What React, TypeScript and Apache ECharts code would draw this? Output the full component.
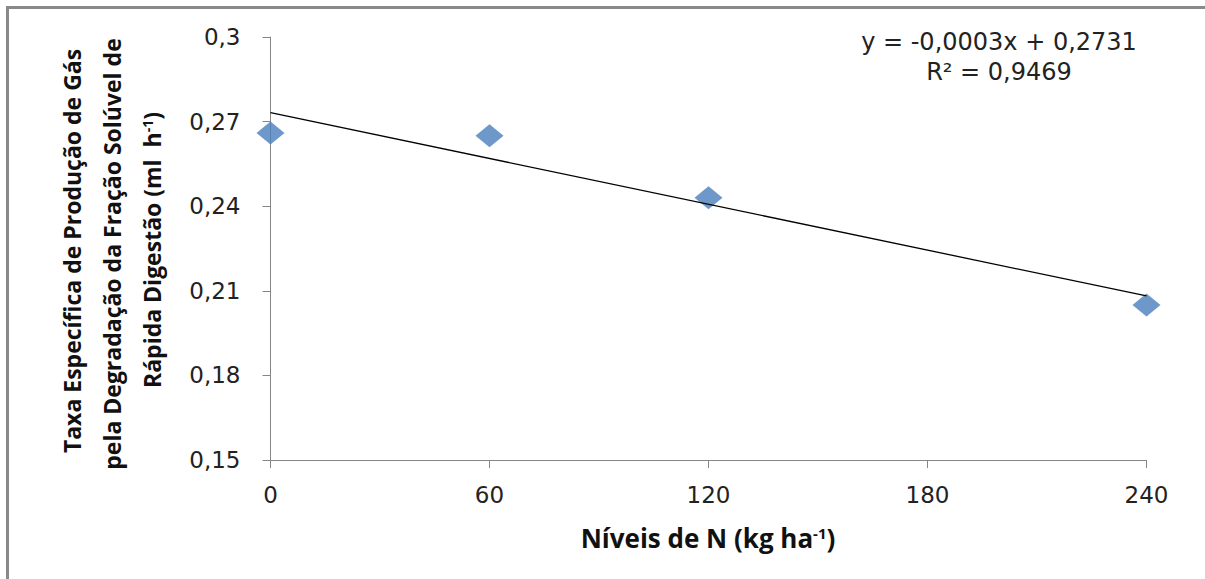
import React, { useEffect, useRef } from "react";
import * as echarts from "echarts";

// ---- data ----
const nLevels = [0, 60, 120, 240];
const gasRate = [0.266, 0.265, 0.243, 0.205];
const xTickInfo = { min: 0, max: 240, interval: 60 };
const yTickInfo = { min: 0.15, max: 0.3, interval: 0.03 };
const equationText = "y = -0,0003x + 0,2731";
const r2Text = "R² = 0,9469";
const yTitleLine1 = "Taxa Específica de Produção de Gás";
const yTitleLine2 = "pela Degradação da Fração Solúvel de";
const yTitleLine3 = "Rápida Digestão (ml  h";
const xTitleMain = "Níveis de N (kg ha";
const supText = "-1";

// least squares linear trend through the observed points
function linearFit(xs: number[], ys: number[]) {
  const n = xs.length;
  const mx = xs.reduce((a, b) => a + b, 0) / n;
  const my = ys.reduce((a, b) => a + b, 0) / n;
  let sxy = 0;
  let sxx = 0;
  for (let i = 0; i < n; i++) {
    sxy += (xs[i] - mx) * (ys[i] - my);
    sxx += (xs[i] - mx) * (xs[i] - mx);
  }
  const m = sxy / sxx;
  return { m, b: my - m * mx };
}

const fit = linearFit(nLevels, gasRate);
const trendX = [nLevels[0], nLevels[nLevels.length - 1]];
const trendData = trendX.map((x) => [x, fit.b + fit.m * x]);

const TITLE_FONT = "'Open Sans', 'Noto Sans', sans-serif";
const NUM_FONT = "'DejaVu Sans', sans-serif";

export default function App() {
  const ref = useRef<HTMLDivElement>(null);

  useEffect(() => {
    if (!ref.current) return;
    const chart = echarts.init(ref.current, undefined, { renderer: "svg" });
    const axisColor = "#868686";
    const labelColor = "#222";
    chart.setOption({
      animation: false,
      backgroundColor: "#ffffff",
      grid: { left: 270.5, right: 58.5, top: 37, bottom: 119, containLabel: false },
      xAxis: {
        type: "value",
        min: xTickInfo.min,
        max: xTickInfo.max,
        interval: xTickInfo.interval,
        axisLine: { show: true, lineStyle: { color: axisColor, width: 1 } },
        axisTick: { show: true, length: 8, lineStyle: { color: axisColor, width: 1 } },
        axisLabel: { margin: 23, fontFamily: NUM_FONT, fontSize: 23, color: labelColor },
        splitLine: { show: false },
      },
      yAxis: {
        type: "value",
        min: yTickInfo.min,
        max: yTickInfo.max,
        interval: yTickInfo.interval,
        axisLine: { show: true, lineStyle: { color: axisColor, width: 1 } },
        axisTick: { show: true, length: 8, lineStyle: { color: axisColor, width: 1 } },
        axisLabel: {
          margin: 30,
          fontFamily: NUM_FONT,
          fontSize: 23,
          color: labelColor,
          formatter: (v: number) => String(+v.toFixed(2)).replace(".", ","),
        },
        splitLine: { show: false },
      },
      series: [
        {
          type: "line",
          data: trendData,
          showSymbol: false,
          symbol: "none",
          lineStyle: { color: "#000", width: 1.3 },
          z: 3,
        },
        {
          type: "scatter",
          data: nLevels.map((x, i) => [x, gasRate[i]]),
          symbol: "diamond",
          symbolSize: [28, 23],
          itemStyle: { color: "#4A7EBB" },
          z: 2,
        },
      ],
      graphic: [
        {
          type: "line",
          shape: { x1: 6, y1: 7.5, x2: 1205, y2: 7.5 },
          style: { stroke: "#898989", lineWidth: 3 },
        },
        {
          type: "line",
          shape: { x1: 7.5, y1: 6, x2: 7.5, y2: 579 },
          style: { stroke: "#898989", lineWidth: 3 },
        },
        {
          type: "text",
          x: 999,
          y: 42,
          style: {
            text: equationText,
            fontFamily: NUM_FONT,
            fontSize: 24,
            fill: labelColor,
            align: "center",
            verticalAlign: "middle",
          },
        },
        {
          type: "text",
          x: 999,
          y: 72,
          style: {
            text: r2Text,
            fontFamily: NUM_FONT,
            fontSize: 24,
            fill: labelColor,
            align: "center",
            verticalAlign: "middle",
          },
        },
        {
          type: "text",
          x: 72,
          y: 251,
          rotation: Math.PI / 2,
          style: {
            text: yTitleLine1,
            fontFamily: TITLE_FONT,
            fontWeight: "bold",
            fontSize: 23,
            fill: "#111",
            align: "center",
            verticalAlign: "middle",
          },
        },
        {
          type: "text",
          x: 112,
          y: 254,
          rotation: Math.PI / 2,
          style: {
            text: yTitleLine2,
            fontFamily: TITLE_FONT,
            fontWeight: "bold",
            fontSize: 23,
            fill: "#111",
            align: "center",
            verticalAlign: "middle",
          },
        },
        {
          type: "text",
          x: 152,
          y: 250,
          rotation: Math.PI / 2,
          style: {
            text: yTitleLine3 + "{sup|" + supText + "})",
            fontFamily: TITLE_FONT,
            fontWeight: "bold",
            fontSize: 23,
            fill: "#111",
            align: "center",
            verticalAlign: "middle",
            rich: {
              sup: {
                fontFamily: TITLE_FONT,
                fontWeight: "bold",
                fontSize: 14,
                fill: "#111",
                verticalAlign: "top",
              },
            },
          },
        },
        {
          type: "text",
          x: 708,
          y: 538,
          style: {
            text: xTitleMain + "{sup|" + supText + "})",
            fontFamily: TITLE_FONT,
            fontWeight: "bold",
            fontSize: 26,
            fill: "#111",
            align: "center",
            verticalAlign: "middle",
            rich: {
              sup: {
                fontFamily: TITLE_FONT,
                fontWeight: "bold",
                fontSize: 15,
                fill: "#111",
                verticalAlign: "top",
              },
            },
          },
        },
      ],
    });
    return () => chart.dispose();
  }, []);

  return (
    <div
      ref={ref}
      style={{ position: "absolute", left: 0, top: 0, width: 1205, height: 579 }}
    />
  );
}
